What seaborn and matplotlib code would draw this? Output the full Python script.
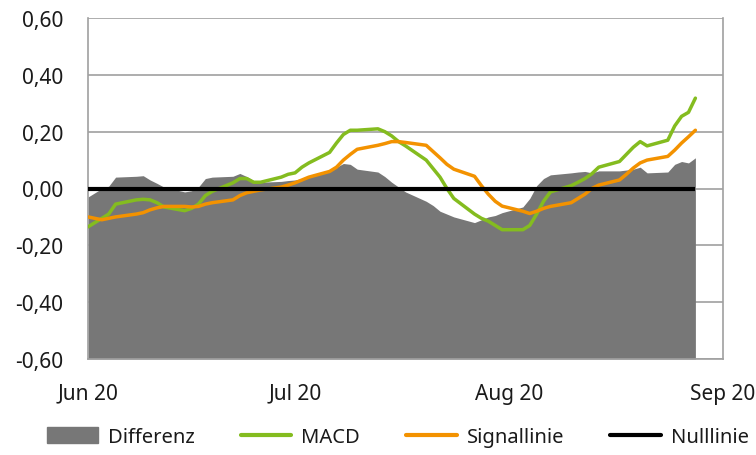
import numpy as np
import pandas as pd
import matplotlib
matplotlib.use('Agg')
import matplotlib.pyplot as plt
import matplotlib.dates as mdates
from matplotlib.patches import Patch
from matplotlib.lines import Line2D
import seaborn as sns

sns.set_style('white')
plt.rcParams['font.family'] = ['Noto Sans', 'DejaVu Sans']

# Handelstage 01.06.2020 - 28.08.2020
dates = pd.bdate_range('2020-06-01', '2020-08-28')

macd = [
    -0.135, -0.12, -0.105, -0.09, -0.055,
    -0.04, -0.038, -0.04, -0.05, -0.065,
    -0.078, -0.07, -0.055, -0.025, -0.01,
    0.02, 0.035, 0.035, 0.022, 0.022,
    0.04, 0.05,
    0.055, 0.075, 0.09,
    0.127, 0.16, 0.19, 0.205, 0.205,
    0.21, 0.2, 0.185, 0.165, 0.15,
    0.1, 0.07, 0.04, 0.0, -0.035,
    -0.09, -0.105, -0.115, -0.13, -0.145,
    -0.145, -0.13, -0.09, -0.045, -0.012,
    0.01, 0.022, 0.035, 0.052, 0.075,
    0.095, 0.12, 0.145, 0.165, 0.15,
    0.17, 0.22, 0.254, 0.268, 0.318]

signal = [
    -0.10, -0.105, -0.11, -0.105, -0.10,
    -0.09, -0.085, -0.075, -0.068, -0.063,
    -0.063, -0.065, -0.063, -0.055, -0.05,
    -0.04, -0.025, -0.015, -0.01, -0.005,
    0.005, 0.012,
    0.02, 0.03, 0.04,
    0.06, 0.075, 0.1, 0.12, 0.138,
    0.152, 0.158, 0.165, 0.165, 0.162,
    0.152, 0.13, 0.108, 0.085, 0.068,
    0.043, 0.01, -0.02, -0.045, -0.062,
    -0.08, -0.088, -0.08, -0.07, -0.063,
    -0.05, -0.035, -0.02, 0.0, 0.012,
    0.03, 0.05, 0.072, 0.09, 0.1,
    0.113, 0.135, 0.16, 0.182, 0.205]

differenz = [
    -0.03, -0.015, 0.0, 0.008, 0.04,
    0.043, 0.045, 0.03, 0.018, 0.005,
    -0.012, -0.008, 0.005, 0.035, 0.04,
    0.043, 0.053, 0.042, 0.028, 0.022,
    0.025, 0.028,
    0.03, 0.035, 0.045,
    0.065, 0.075, 0.088, 0.085, 0.068,
    0.058, 0.042, 0.022, 0.005, -0.012,
    -0.045, -0.06, -0.08, -0.09, -0.1,
    -0.12, -0.11, -0.1, -0.095, -0.085,
    -0.065, -0.035, 0.01, 0.035, 0.048,
    0.055, 0.058, 0.06, 0.055, 0.062,
    0.062, 0.065, 0.068, 0.075, 0.055,
    0.058, 0.085, 0.095, 0.09, 0.108]

df = pd.DataFrame({'Datum': dates, 'MACD': macd, 'Signallinie': signal, 'Differenz': differenz})

c_grau = '#777777'
c_gruen = '#84bc1f'
c_orange = '#f39200'
c_achse = '#a0a0a0'

fig = plt.figure(figsize=(7.56, 4.56), dpi=100)
ax = fig.add_axes([88/756, 1-360/456, (723-88)/756, (360-19)/456])

# Differenz als Flaeche bis zum unteren Achsenrand
ax.fill_between(df['Datum'], df['Differenz'], -0.6, color=c_grau, lw=0, zorder=2)
sns.lineplot(data=df, x='Datum', y='MACD', color=c_gruen, lw=2.5, ax=ax, zorder=3)
sns.lineplot(data=df, x='Datum', y='Signallinie', color=c_orange, lw=2.5, ax=ax, zorder=3)
ax.plot([df['Datum'].iloc[0], df['Datum'].iloc[-1]], [0, 0], color='black', lw=3, zorder=4,
        solid_capstyle='butt')

ax.set_ylim(-0.6, 0.6)
ax.set_xlim(pd.Timestamp('2020-06-01'), pd.Timestamp('2020-09-01'))
ax.set_yticks(np.arange(-0.6, 0.61, 0.2))
ax.yaxis.set_major_formatter(plt.FuncFormatter(lambda v, p: f'{v:.2f}'.replace('.', ',').replace('-0,00', '0,00')))
ax.xaxis.set_major_locator(mdates.MonthLocator())
ax.xaxis.set_major_formatter(mdates.DateFormatter('%b %y'))
ax.set_xlabel('')
ax.set_ylabel('')

ax.grid(axis='y', color=c_achse, lw=1.2, zorder=0)
ax.set_axisbelow(True)
for s in ['left', 'bottom', 'right']:
    ax.spines[s].set_visible(True)
    ax.spines[s].set_color(c_achse)
    ax.spines[s].set_linewidth(1.2)
ax.spines['top'].set_visible(False)
ax.tick_params(axis='both', length=6, width=1.2, color=c_achse, labelsize=15, labelcolor='#1a1a1a')
ax.tick_params(axis='y', pad=12)
ax.tick_params(axis='x', pad=11)

handles = [
    Patch(facecolor=c_grau, edgecolor=c_grau),
    Line2D([0], [0], color=c_gruen, lw=3),
    Line2D([0], [0], color=c_orange, lw=3),
    Line2D([0], [0], color='black', lw=3),
]
labels = ['Differenz', 'MACD', 'Signallinie', 'Nulllinie']
fig.legend(handles, labels, loc='center', bbox_to_anchor=(398/756, 1-438/456), ncol=4,
           frameon=False, fontsize=14.5, handlelength=2.5, handleheight=0.8,
           columnspacing=2.3, handletextpad=0.5, labelcolor='#1a1a1a')

fig.savefig('out.png', dpi=100)
